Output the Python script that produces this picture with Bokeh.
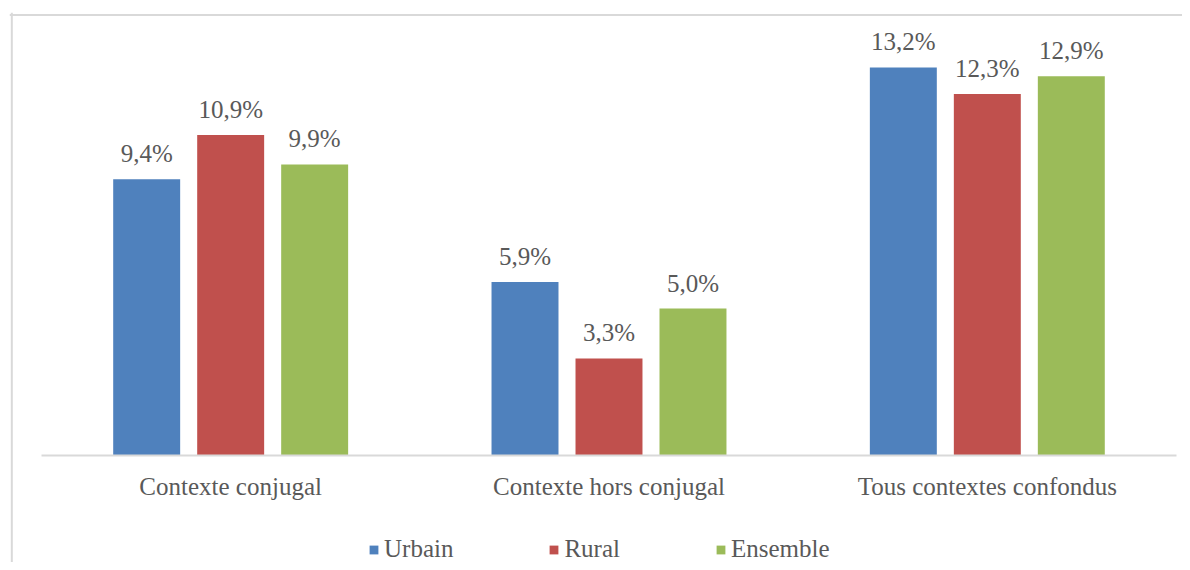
from bokeh.plotting import figure
from bokeh.models import (ColumnDataSource, Range1d, LabelSet, Legend, Span,
                          FixedTicker)
from bokeh.embed import file_html
from bokeh.resources import INLINE

categories = ["Contexte conjugal", "Contexte hors conjugal", "Tous contextes confondus"]
series_names = ["Urbain", "Rural", "Ensemble"]
urbain = [9.4, 5.9, 13.2]
rural = [10.9, 3.3, 12.3]
ensemble = [9.9, 5.0, 12.9]
colors = ["#4F81BD", "#C0504D", "#9BBB59"]

FONT = "Liberation Serif"
TXT = "#595959"
FS = "25px"

# category centres on a numeric axis: 0.5, 1.5, 2.5
centers = [i + 0.5 for i in range(len(categories))]

p = figure(x_range=Range1d(-0.0846, 3.0159), y_range=Range1d(-3.639, 15.068),
           width=1182, height=562, output_backend="svg", toolbar_location=None,
           min_border_left=9, min_border_right=0, min_border_top=12, min_border_bottom=0)
p.outline_line_color = None
p.xgrid.visible = False
p.ygrid.visible = False
p.yaxis.visible = False

# outer chart border (left and top edges; the others fall outside the window)
p.add_layout(Span(location=-0.0785, dimension="height", line_color="#d9d9d9", line_width=2))
p.add_layout(Span(location=14.983, dimension="width", line_color="#d9d9d9", line_width=2))

xa = p.xaxis[0]
xa.fixed_location = 0
xa.bounds = (0, 3)
xa.ticker = FixedTicker(ticks=centers)
xa.major_label_overrides = {c: name for c, name in zip(centers, categories)}
xa.axis_line_color = "#d9d9d9"
xa.axis_line_width = 2
xa.major_tick_line_color = None
xa.minor_tick_line_color = None
xa.major_tick_out = 0
xa.major_tick_in = 0
xa.minor_tick_out = 0
xa.major_label_standoff = 17
xa.major_label_text_font = FONT
xa.major_label_text_font_size = FS
xa.major_label_text_color = TXT

offsets = [-0.222, 0.0, 0.222]
values = [urbain, rural, ensemble]
items = []
for name, vals, col, off in zip(series_names, values, colors, offsets):
    src = ColumnDataSource(dict(x=[c + off for c in centers], val=vals,
                                lab=[("%.1f%%" % v).replace(".", ",") for v in vals]))
    r = p.vbar(x="x", top="val", bottom=0, width=0.177, source=src,
               fill_color=col, line_color=None)
    items.append((name, [r]))
    lbl = LabelSet(x="x", y="val", text="lab", source=src,
                   text_align="center", text_baseline="alphabetic", y_offset=17,
                   text_font=FONT, text_font_size=FS, text_color=TXT)
    p.add_layout(lbl)

legend = Legend(items=items, orientation="horizontal", location=(359, -1),
                glyph_width=11, glyph_height=11, label_standoff=5, spacing=95,
                label_text_font=FONT, label_text_font_size=FS, label_text_color=TXT,
                border_line_color=None, background_fill_alpha=0, margin=0, padding=0)
p.add_layout(legend)

open("out.html", "w").write(file_html(p, INLINE))
